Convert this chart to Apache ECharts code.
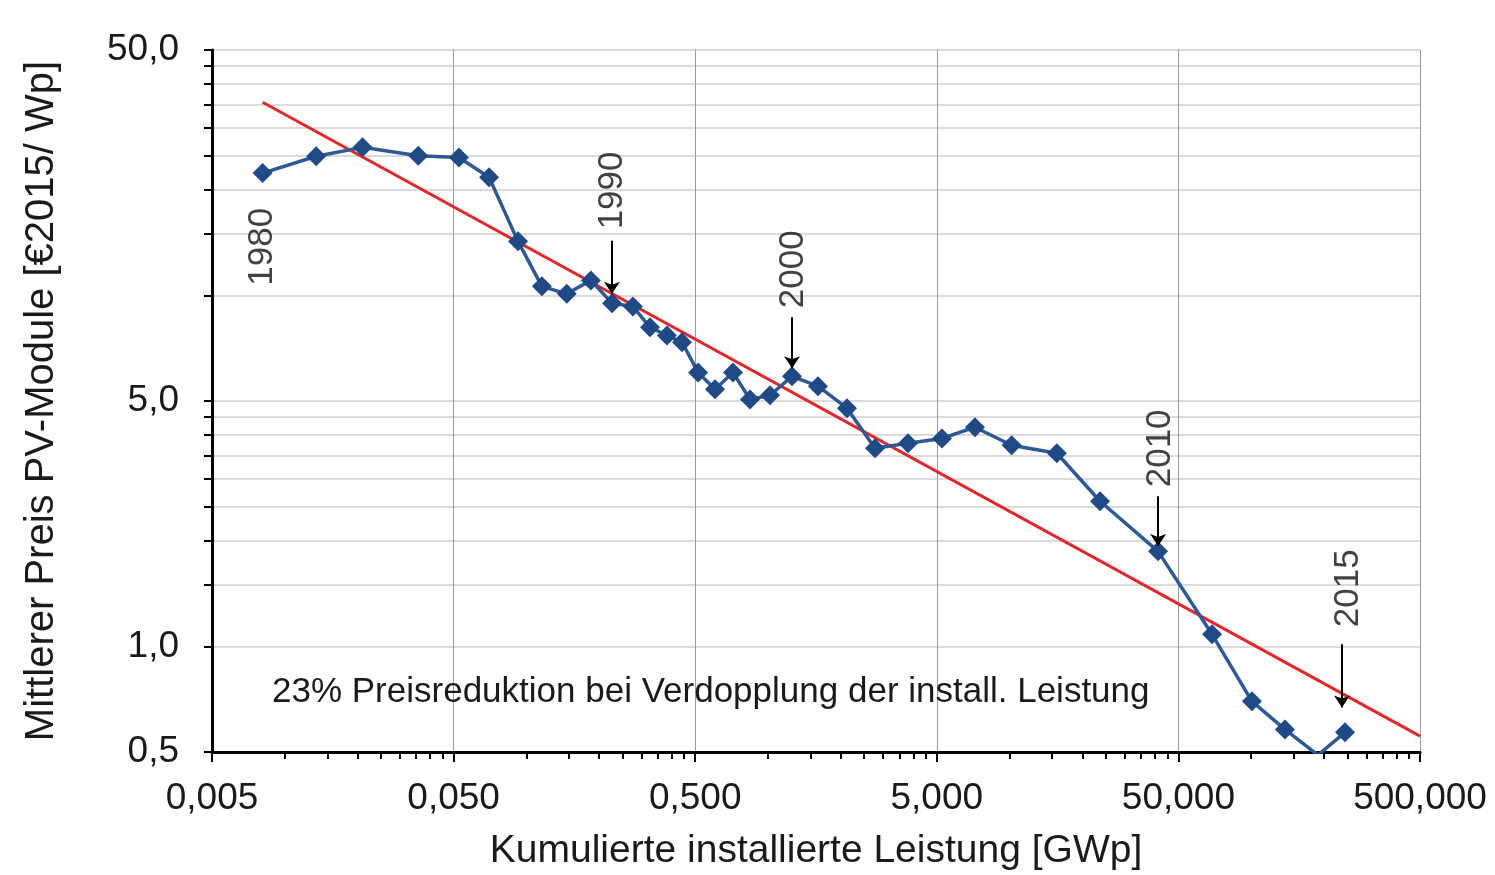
<!DOCTYPE html>
<html>
<head>
<meta charset="utf-8">
<script src="https://cdn.jsdelivr.net/npm/echarts@6/dist/echarts.min.js"></script>
<style>
  html, body { margin: 0; padding: 0; background: #ffffff; }
  #chart { width: 1495px; height: 875px; }
</style>
</head>
<body>
<div id="chart"></div>
<script>
// Cumulative installed PV capacity [GWp], one point per year 1980-2015
const capacityGWp = [0.0081, 0.0135, 0.021, 0.0357, 0.0526, 0.0701, 0.0924, 0.116, 0.147, 0.185,
                     0.2265, 0.276, 0.325, 0.382, 0.441, 0.514, 0.604, 0.717, 0.843, 1.02,
                     1.258, 1.611, 2.124, 2.775, 3.80, 5.25, 7.19, 10.2, 15.7, 23.7,
                     41.2, 68.9, 100.8, 138, 189, 244.7];
// Average module price [€2015 / Wp]
const modulePrice = [22.3, 24.9, 26.4, 25.0, 24.7, 21.7, 14.25, 10.61, 10.1, 11.03,
                     9.49, 9.30, 8.11, 7.69, 7.35, 6.03, 5.40, 6.03, 5.05, 5.19,
                     5.88, 5.51, 4.77, 3.665, 3.79, 3.91, 4.21, 3.74, 3.55, 2.59,
                     1.865, 1.082, 0.697, 0.580, 0.49, 0.569];

// Learning curve: 23 % price reduction per doubling of installed capacity
const trendCapacity = [0.0081, 500];
const trendPrice = [35.5, 0.555];

// Axis ticks and labels
const xMajorTicks = [0.005, 0.05, 0.5, 5, 50, 500];
const xMinorTicks = [0.01, 0.015, 0.02, 0.025, 0.03, 0.035, 0.04, 0.045,
                     0.1, 0.15, 0.2, 0.25, 0.3, 0.35, 0.4, 0.45,
                     1, 1.5, 2, 2.5, 3, 3.5, 4, 4.5,
                     10, 15, 20, 25, 30, 35, 40, 45,
                     100, 150, 200, 250, 300, 350, 400, 450];
const yTicks = [0.5, 1, 1.5, 2, 2.5, 3, 3.5, 4, 4.5, 5, 10, 15, 20, 25, 30, 35, 40, 45, 50];
const yLabels = [0.5, 1, 5, 50];

// Year annotations
const yearText = ['1980', '1990', '2000', '2010', '2015'];
const yearTextX = [0.0081, 0.226, 1.27, 41.9, 251.8];
const yearTextY = [13.75, 19.9, 11.86, 3.665, 1.463];
const arrowX = [0.226, 1.258, 41.2, 237.7];
const arrowFromY = [14.3, 8.66, 2.676, 1.013];
const arrowToY = [10.1, 6.2, 1.93, 0.67];

const xTitle = 'Kumulierte installierte Leistung [GWp]';
const yTitle = 'Mittlerer Preis PV-Module [€2015/ Wp]';
const noteText = '23% Preisreduktion bei Verdopplung der install. Leistung';

const FONT = "'Liberation Sans', Arial, sans-serif";
const TEXT_COLOR = '#1a1a1a';
const comma = (v, d) => v.toFixed(d).replace('.', ',');

const chart = echarts.init(document.getElementById('chart'), null, { renderer: 'canvas' });

const option = {
  animation: false,
  backgroundColor: '#ffffff',
  textStyle: { fontFamily: FONT },
  grid: { left: 212, right: 75, top: 50, bottom: 123, containLabel: false, outerBoundsMode: 'none' },
  title: {
    text: noteText,
    left: 272,
    top: 675,
    padding: 0,
    textStyle: { fontFamily: FONT, fontSize: 35, fontWeight: 'normal', color: TEXT_COLOR }
  },
  xAxis: [
    {
      type: 'log', logBase: 10, min: 0.005, max: 500, position: 'bottom',
      name: xTitle, nameLocation: 'middle', nameGap: 80,
      nameTextStyle: { fontFamily: FONT, fontSize: 39, color: TEXT_COLOR },
      axisLine: { show: true, onZero: false, lineStyle: { color: '#000', width: 3 } },
      axisTick: { show: true, customValues: xMajorTicks, length: 10, lineStyle: { color: '#000', width: 2 } },
      axisLabel: {
        customValues: xMajorTicks, fontFamily: FONT, fontSize: 37, color: TEXT_COLOR, margin: 28,
        formatter: v => comma(v, 3)
      },
      splitLine: { show: true, showMinLine: false, lineStyle: { color: '#9b9b9b', width: 1 } },
      minorTick: { show: false }, minorSplitLine: { show: false }
    },
    {
      type: 'log', logBase: 10, min: 0.005, max: 500, position: 'bottom',
      axisLine: { show: false },
      axisTick: { show: true, customValues: xMinorTicks, length: 7, lineStyle: { color: '#000', width: 2 } },
      axisLabel: { show: false },
      splitLine: { show: false },
      minorTick: { show: false }, minorSplitLine: { show: false }
    }
  ],
  yAxis: [
    {
      type: 'log', logBase: 10, min: 0.5, max: 50, position: 'left',
      name: yTitle, nameLocation: 'middle', nameGap: 150, nameRotate: 90,
      nameTextStyle: { fontFamily: FONT, fontSize: 40, color: TEXT_COLOR },
      axisLine: { show: true, onZero: false, lineStyle: { color: '#000', width: 3 } },
      axisTick: { show: true, customValues: yTicks, length: 8, lineStyle: { color: '#000', width: 2 } },
      axisLabel: {
        customValues: yLabels, fontFamily: FONT, fontSize: 37, color: TEXT_COLOR, margin: 33,
        formatter: v => comma(v, 1)
      },
      splitLine: { show: true, showMinLine: false, lineStyle: { color: '#cfcfcf', width: 1.5 } },
      minorTick: { show: false }, minorSplitLine: { show: false }
    }
  ],
  series: [
    {
      name: 'Lernkurve',
      type: 'line',
      data: trendCapacity.map((x, i) => [x, trendPrice[i]]),
      symbol: 'none',
      lineStyle: { color: '#E3262B', width: 3 },
      z: 3,
      silent: true
    },
    {
      name: 'Modulpreis',
      type: 'line',
      data: capacityGWp.map((x, i) => [x, modulePrice[i]]),
      symbol: 'diamond',
      symbolSize: 20,
      itemStyle: { color: '#1F4A85' },
      lineStyle: { color: '#2E5A94', width: 3.5 },
      clip: true,
      z: 4,
      silent: true
    },
    {
      name: 'Jahre',
      type: 'scatter',
      data: yearText.map((t, i) => ({ name: t, value: [yearTextX[i], yearTextY[i]] })),
      symbolSize: 0,
      silent: true,
      z: 5,
      label: {
        show: true, position: 'inside', rotate: 90,
        formatter: p => p.name,
        fontFamily: FONT, fontSize: 35, color: '#111111',
        textBorderWidth: 0
      },
      markLine: {
        silent: true,
        symbol: ['none', 'arrow'],
        symbolSize: 12,
        label: { show: false },
        lineStyle: { color: '#000', width: 2, type: 'solid' },
        data: arrowX.map((x, i) => [{ coord: [x, arrowFromY[i]] }, { coord: [x, arrowToY[i]] }])
      }
    }
  ]
};

chart.setOption(option);
</script>
</body>
</html>
